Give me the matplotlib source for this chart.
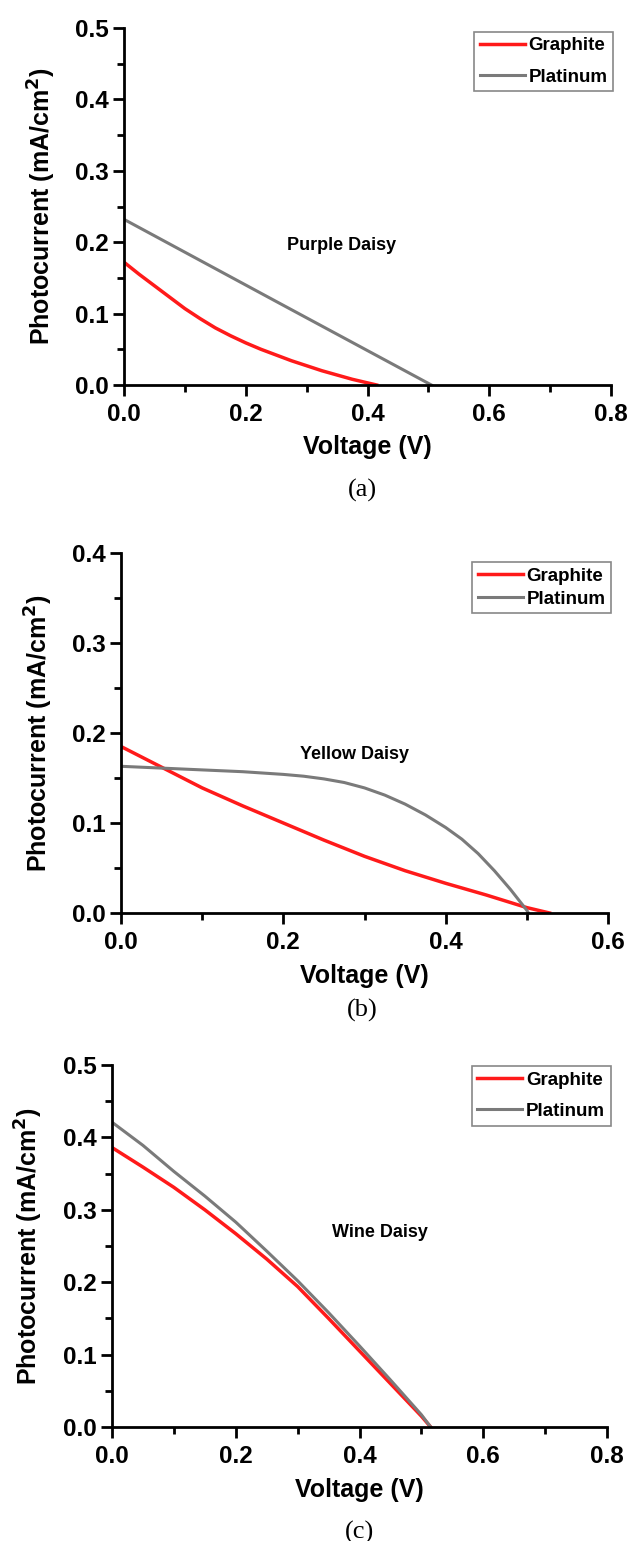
import matplotlib
matplotlib.use('Agg')
import matplotlib.pyplot as plt

# panel (a) purple daisy
volt_a_graphite = [0.0, 0.025, 0.05, 0.075, 0.1, 0.125, 0.15, 0.175, 0.2, 0.225, 0.25,
                   0.275, 0.3, 0.325, 0.35, 0.375, 0.4, 0.415]
curr_a_graphite = [0.172, 0.155, 0.139, 0.123, 0.107, 0.093, 0.080, 0.069, 0.059, 0.050, 0.042,
                   0.034, 0.027, 0.020, 0.014, 0.008, 0.003, 0.0]
volt_a_platinum = [0.0, 0.25, 0.505]
curr_a_platinum = [0.232, 0.117, 0.0]

# panel (b) yellow daisy
volt_b_graphite = [0.0, 0.05, 0.1, 0.15, 0.2, 0.25, 0.3, 0.35, 0.4, 0.45, 0.5, 0.528]
curr_b_graphite = [0.185, 0.162, 0.139, 0.119, 0.100, 0.081, 0.063, 0.047, 0.033, 0.020, 0.006, 0.0]
volt_b_platinum = [0.0, 0.05, 0.1, 0.15, 0.2, 0.225, 0.25, 0.275, 0.3, 0.325, 0.35, 0.375,
                   0.4, 0.42, 0.44, 0.46, 0.48, 0.5, 0.502]
curr_b_platinum = [0.163, 0.161, 0.159, 0.157, 0.154, 0.152, 0.149, 0.145, 0.139, 0.131, 0.121,
                   0.109, 0.095, 0.082, 0.066, 0.047, 0.026, 0.003, 0.0]

# panel (c) wine daisy
volt_c_graphite = [0.0, 0.05, 0.1, 0.15, 0.2, 0.25, 0.3, 0.35, 0.4, 0.45, 0.5, 0.515]
curr_c_graphite = [0.386, 0.359, 0.331, 0.300, 0.267, 0.232, 0.194, 0.150, 0.105, 0.060, 0.015, 0.0]
volt_c_platinum = [0.0, 0.05, 0.1, 0.15, 0.2, 0.25, 0.3, 0.35, 0.4, 0.45, 0.5, 0.515]
curr_c_platinum = [0.421, 0.389, 0.353, 0.319, 0.283, 0.243, 0.202, 0.158, 0.112, 0.065, 0.017, 0.0]

names = ['Purple Daisy', 'Yellow Daisy', 'Wine Daisy']
letters = ['(a)', '(b)', '(c)']

W, H = 630, 1541
plt.rcParams['font.family'] = ['Liberation Sans', 'DejaVu Sans']
plt.rcParams['font.weight'] = 'bold'
plt.rcParams['mathtext.default'] = 'bf'

fig = plt.figure(figsize=(W / 100, H / 100), dpi=100)


def px_axes(left, top, right, bottom):
    return fig.add_axes([left / W, 1 - bottom / H, (right - left) / W, (bottom - top) / H])


def setup(ax, xmax, ymax, name, npos, legpos, legspace):
    ax.set_xlim(0, xmax)
    ax.set_ylim(0, ymax)
    for s in ['top', 'right']:
        ax.spines[s].set_visible(False)
    for s in ['left', 'bottom']:
        ax.spines[s].set_linewidth(2)
    xt = [round(0.2 * i, 1) for i in range(int(round(xmax / 0.2)) + 1)]
    yt = [round(0.1 * i, 1) for i in range(int(round(ymax / 0.1)) + 1)]
    ax.set_xticks(xt)
    ax.set_yticks(yt)
    ax.set_xticklabels(['%.1f' % v for v in xt])
    ax.set_yticklabels(['%.1f' % v for v in yt])
    ax.set_xticks([round(0.2 * i + 0.1, 1) for i in range(len(xt) - 1)], minor=True)
    ax.set_yticks([round(0.1 * i + 0.05, 2) for i in range(len(yt) - 1)], minor=True)
    ax.tick_params(which='major', direction='out', length=8, width=2, labelsize=17.5, pad=3)
    ax.tick_params(which='minor', direction='out', length=5, width=2)
    ax.tick_params(axis='x', which='major', pad=5)
    ax.set_xlabel('Voltage (V)', fontsize=18, fontweight='bold')
    ax.set_ylabel('Photocurrent (mA/cm$^{2}$)', fontsize=18, fontweight='bold')
    ax.xaxis.set_label_coords(0.5, -0.175)
    ax.xaxis.label.set_verticalalignment('center')
    ax.yaxis.set_label_coords(-0.168, 0.5)
    ax.yaxis.label.set_verticalalignment('center')
    ax.text(npos[0], npos[1], name, fontsize=13, fontweight='bold', ha='center', va='center')
    leg = ax.legend(loc='upper left', bbox_to_anchor=legpos, frameon=True, fancybox=False,
                    edgecolor='#888888', framealpha=1, borderaxespad=0, borderpad=0.3,
                    handlelength=2.4, handletextpad=0.2, labelspacing=legspace,
                    prop={'size': 13.5, 'weight': 'bold'})
    leg.get_frame().set_linewidth(1.2)


ax_a = px_axes(124, 28, 611, 385)
ax_a.plot(volt_a_graphite, curr_a_graphite, color='#ff1a1a', lw=2.5, label='Graphite')
ax_a.plot(volt_a_platinum, curr_a_platinum, color='#7a7a7a', lw=2.2, label='Platinum')
setup(ax_a, 0.8, 0.5, names[0], (0.358, 0.195), (0.719, 0.99), 0.75)

ax_b = px_axes(121, 553, 608, 913)
ax_b.plot(volt_b_graphite, curr_b_graphite, color='#ff1a1a', lw=2.5, label='Graphite')
ax_b.plot(volt_b_platinum, curr_b_platinum, color='#7a7a7a', lw=2.2, label='Platinum')
setup(ax_b, 0.6, 0.4, names[1], (0.288, 0.1756), (0.721, 0.975), 0.3)

ax_c = px_axes(112, 1065, 607, 1427)
ax_c.plot(volt_c_graphite, curr_c_graphite, color='#ff1a1a', lw=2.5, label='Graphite')
ax_c.plot(volt_c_platinum, curr_c_platinum, color='#7a7a7a', lw=2.2, label='Platinum')
setup(ax_c, 0.8, 0.5, names[2], (0.433, 0.269), (0.727, 0.997), 0.75)

for letter, x, y in [(letters[0], 362, 490), (letters[1], 362, 1010), (letters[2], 360, 1532)]:
    fig.text(x / W, 1 - y / H, letter, fontsize=19, fontweight='normal', ha='center', va='center',
             family=['Liberation Serif', 'DejaVu Serif'])

fig.savefig('out.png', dpi=100)
